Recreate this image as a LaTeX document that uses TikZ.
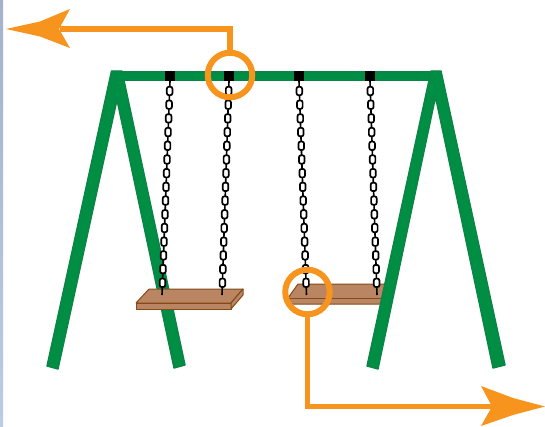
\documentclass[tikz,border=0pt]{standalone}
\usetikzlibrary{calc}
\definecolor{frameg}{HTML}{008E44}
\definecolor{frameline}{HTML}{0B8545}
\definecolor{seatf}{HTML}{B98562}
\definecolor{seatl}{HTML}{854A18}
\definecolor{accent}{HTML}{F7941E}
\definecolor{stripa}{HTML}{A5B1CE}
\definecolor{stripb}{HTML}{BBCBE8}
\tikzset{
  x=1pt,y=-1pt,
  legbar/.style={fill=frameg,draw=frameline,line width=1.4pt,line join=round},
  seatpart/.style={fill=seatf,draw=seatl,line width=1pt,line join=round},
  ring/.style={circle,draw=accent,line width=6pt,minimum size=44.5pt,inner sep=0pt,fill=none},
  pointer/.style={draw=accent,line width=5.5pt,line join=miter},
  pointerhead/.style={fill=accent,draw=none},
  linkbox/.style={draw=black,line width=1.7pt,fill=white,rounded corners=2pt},
  holder/.style={fill=black,draw=none},
}
\newcommand{\swingchain}[4]{% x0, y0, x1, y1
  \draw[black,line width=1.6pt] (#1,#2) -- (#3,#4);
  \foreach \t in {0,...,14}{
    \pgfmathsetmacro{\lx}{#1+(#3-#1)*(\t*13.7+10)/(#4-#2)}
    \pgfmathsetmacro{\ly}{#2+\t*13.7+10}
    \filldraw[linkbox] (\lx-2.8,\ly-4.2) rectangle (\lx+2.8,\ly+4.2);
  }
}
\begin{document}
\begin{tikzpicture}
\useasboundingbox (0,0) rectangle (545,427);
\fill[white] (0,0) rectangle (545,427);
\shade[top color=stripa,bottom color=stripb] (0,0) rectangle (3,427);

% left A frame, back leg
\draw[legbar] (111.5,71) -- (122,71) -- (185,365) -- (174,368) -- (117,100) -- (58,369) -- (47,366) -- cycle;
% right seat, behind right A frame
\draw[seatpart] (298,284) -- (386,284) -- (386,304) -- (288,304) -- (288,298) -- cycle;
\draw[seatl,line width=1pt] (288,298) -- (386,298);
% beam
\draw[legbar] (116,72) rectangle (434,80.5);
% right A frame
\draw[legbar] (431,71) -- (441,71) -- (505,365) -- (493,368) -- (435.5,97) -- (378,369) -- (367,366) -- cycle;
% left seat
\draw[seatpart] (149,289) -- (243,289) -- (231,303) -- (136,303) -- cycle;
\draw[seatpart] (136,303) -- (231,303) -- (231,309) -- (136,309) -- cycle;
\draw[seatpart] (231,303) -- (243,289) -- (243,295) -- (231,309) -- cycle;
% chains
\swingchain{170}{81}{162}{295}
\swingchain{229}{81}{222}{295}
\swingchain{299}{81}{306.5}{295}
\swingchain{370}{81}{377}{295}
% holders
\fill[holder] (165,71) rectangle (175,81);
\fill[holder] (224,71) rectangle (234,81);
\fill[holder] (294,71) rectangle (304,81);
\fill[holder] (365,71) rectangle (375,81);
% rings
\node[ring] (top) at (230,75) {};
\node[ring] (low) at (307.5,292) {};
% pointer ends
\coordinate (tipa) at (60,29);
\coordinate (tipb) at (492,406.5);
\draw[pointer] (top.north) |- (tipa);
\draw[pointer] (low.south) |- (tipb);
\fill[pointerhead] (6,29) -- (40,21.5) -- (70,9) -- (59,29) -- (70,48) -- (40,36.5) -- cycle;
\fill[pointerhead] (545,406.5) -- (513,398) -- (481,386) -- (492,406.5) -- (481,426) -- (513,415) -- cycle;
\end{tikzpicture}
\end{document}
